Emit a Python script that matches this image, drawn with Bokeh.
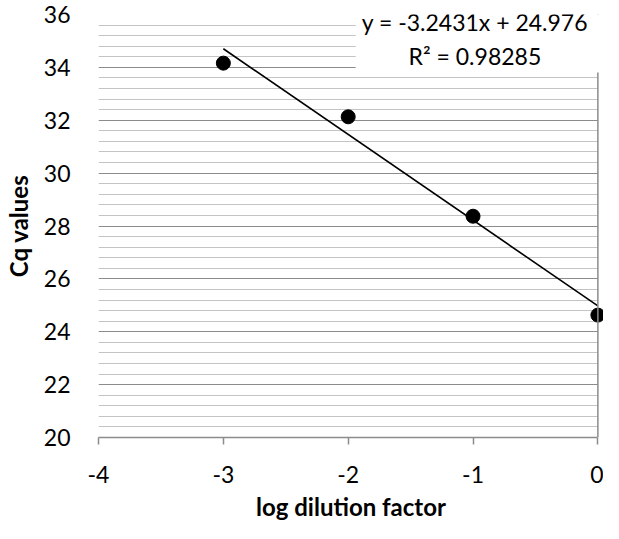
from bokeh.plotting import figure
from bokeh.models import (FixedTicker, Range1d, Span, BoxAnnotation, Label,
                          ColumnDataSource, CustomJSTickFormatter)
from bokeh.embed import file_html
from bokeh.resources import INLINE

# Data
log_dilution = [-3, -2, -1, 0]
cq_values = [34.16, 32.13, 28.37, 24.63]
slope = -3.2431
intercept = 24.976
r_squared = 0.98285
x_ticks = [-4, -3, -2, -1, 0]
y_ticks = [20, 22, 24, 26, 28, 30, 32, 34, 36]
y_minor_step = 0.4
x_title = "log dilution factor"
y_title = "Cq values"

FONT = "Lato"
GRID_MAJOR = "#8C8C8C"
GRID_MINOR = "#C4C4C4"
AXIS_COLOR = "#8C8C8C"

p = figure(width=603, height=523, output_backend="svg", toolbar_location=None,
           x_range=Range1d(-4, 0.045), y_range=Range1d(20, 36),
           min_border_left=89, min_border_right=0, min_border_top=14, min_border_bottom=85)
p.outline_line_color = None
p.background_fill_color = "white"

# y ticks/grid
minor = []
for i in range(len(y_ticks) - 1):
    for k in range(1, 5):
        minor.append(round(y_ticks[i] + k * y_minor_step, 2))
p.yaxis.ticker = FixedTicker(ticks=y_ticks, minor_ticks=minor)
p.ygrid.grid_line_color = GRID_MAJOR
p.ygrid.grid_line_width = 1
p.ygrid.minor_grid_line_color = GRID_MINOR
p.ygrid.minor_grid_line_width = 1
p.xgrid.grid_line_color = None

p.yaxis.axis_line_color = None
p.yaxis.major_tick_line_color = None
p.yaxis.minor_tick_line_color = None
p.yaxis.major_tick_out = 0
p.yaxis.major_tick_in = 0
p.yaxis.major_label_standoff = 24
p.yaxis.axis_label = y_title
p.yaxis.axis_label_standoff = 8
p.yaxis.axis_label_text_font_size = "24px"

p.xaxis.ticker = FixedTicker(ticks=x_ticks, minor_ticks=[])
p.xaxis.formatter = CustomJSTickFormatter(code="return String(tick);")
p.xaxis.bounds = (x_ticks[0], x_ticks[-1])
p.xaxis.axis_line_color = AXIS_COLOR
p.xaxis.axis_line_width = 1.5
p.xaxis.major_tick_line_color = AXIS_COLOR
p.xaxis.major_tick_line_width = 1.5
p.xaxis.major_tick_out = 7
p.xaxis.major_tick_in = 0
p.xaxis.minor_tick_line_color = None
p.xaxis.major_label_standoff = 21
p.xaxis.axis_label = x_title
p.xaxis.axis_label_standoff = 6
p.xaxis.axis_label_text_font_size = "24px"

for ax in (p.xaxis, p.yaxis):
    ax.major_label_text_font = FONT
    ax.major_label_text_font_size = "23px"
    ax.major_label_text_color = "black"
    ax.axis_label_text_font = FONT
    ax.axis_label_text_font_style = "bold"
    ax.axis_label_text_color = "black"

# cover grid beyond x=0
cover = BoxAnnotation(left=0, fill_color="white", fill_alpha=1, line_color=None, level="underlay")
p.add_layout(cover)

# vertical axis line at x = 0
p.add_layout(Span(location=0, dimension="height", line_color=AXIS_COLOR, line_width=1.5))

# trendline
xs_fit = [min(log_dilution), max(log_dilution)]
ys_fit = [slope * x + intercept for x in xs_fit]
p.line(xs_fit, ys_fit, line_color="black", line_width=1.6)

src = ColumnDataSource(dict(x=log_dilution, y=cq_values))
p.scatter("x", "y", source=src, size=14, fill_color="black", line_color="black")

# equation box
box = BoxAnnotation(left=-1.94, bottom=33.81, fill_color="white", fill_alpha=1, line_color=None)
p.add_layout(box)

eq1 = "y = %.4fx + %.3f" % (slope, intercept)
eq2 = "R² = %.5f" % r_squared
p.add_layout(Label(x=-0.985, y=35.72, text=eq1, text_align="center", text_baseline="middle",
                   text_font=FONT, text_font_size="23px", text_color="black"))
p.add_layout(Label(x=-0.985, y=34.415, text=eq2, text_align="center", text_baseline="middle",
                   text_font=FONT, text_font_size="23px", text_color="black"))

open("out.html", "w").write(file_html(p, INLINE))
